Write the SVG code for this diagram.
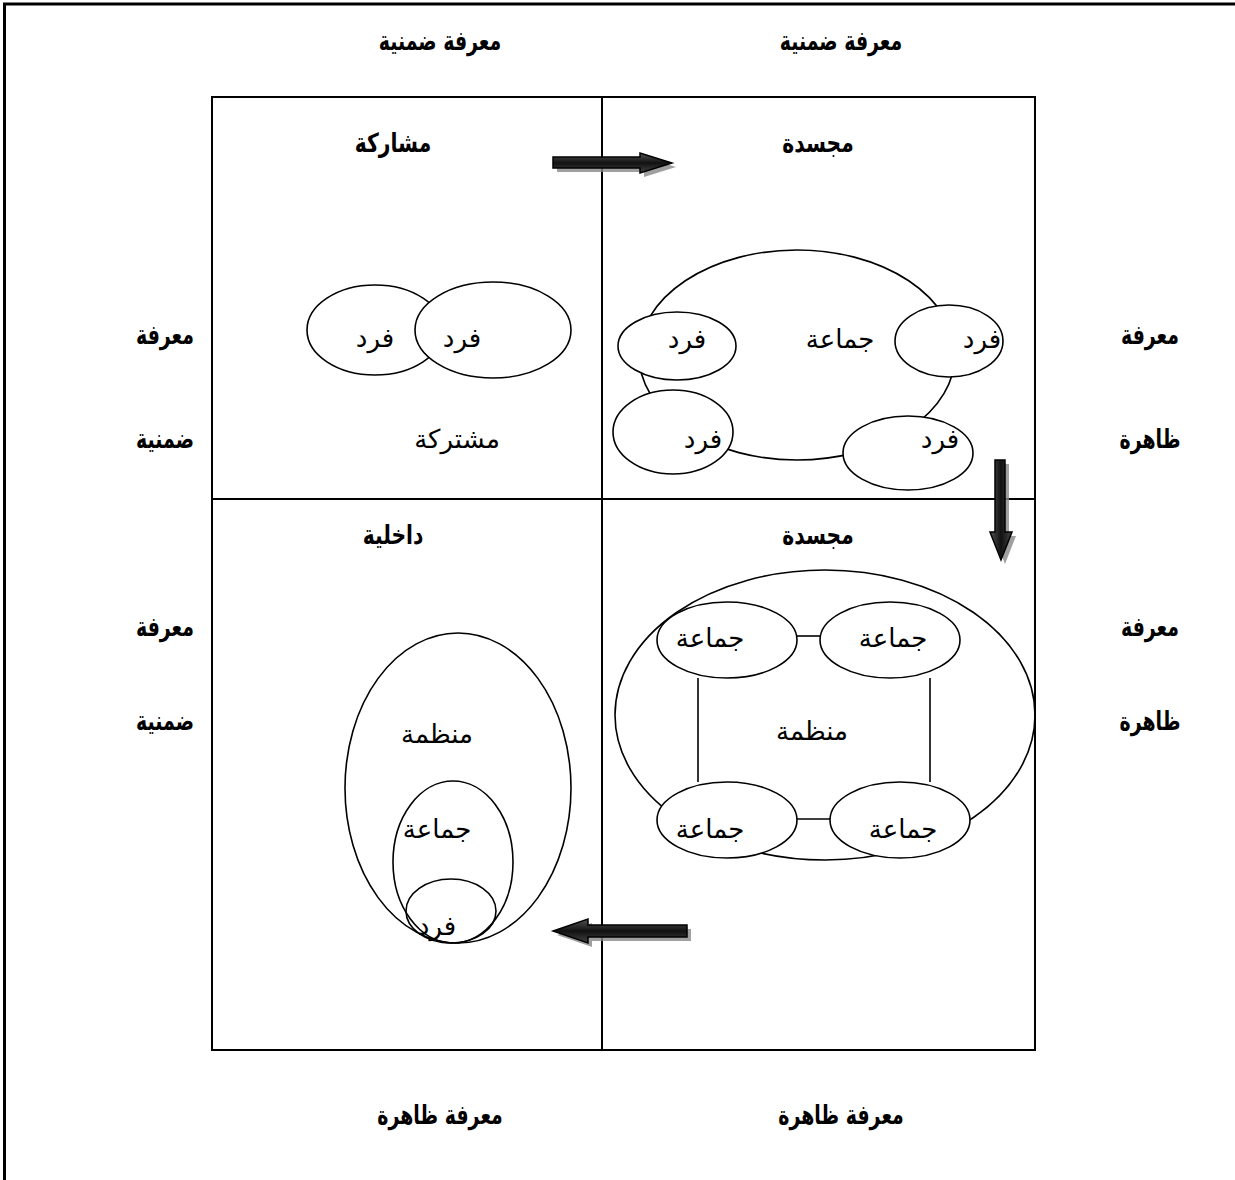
<svg xmlns="http://www.w3.org/2000/svg" width="1235" height="1180" viewBox="0 0 1235 1180">
  <style>
    .frame { fill: none; stroke: #000; stroke-width: 3; }
    .grid { fill: none; stroke: #000; stroke-width: 2; }
    .shape { fill: none; stroke: #000; stroke-width: 1.6; }
    .solid { fill: #fff; stroke: #000; stroke-width: 1.6; }
    .link { stroke: #000; stroke-width: 1.6; }
    .head { font-family: "DejaVu Sans", sans-serif; font-weight: bold; font-size: 22px; text-anchor: middle; fill: #000; }
    .lbl { font-family: "DejaVu Sans", sans-serif; font-size: 26px; text-anchor: middle; fill: #000; }
    .arrow { fill: url(#steel); stroke: #000; stroke-width: 1.5; }
    .arrowv { fill: url(#steelv); stroke: #000; stroke-width: 1.5; }
    .shadow { fill: #888; opacity: 0.8; }
  </style>
  <defs>
    <linearGradient id="steel" x1="0" y1="0" x2="0" y2="1">
      <stop offset="0" stop-color="#555"/>
      <stop offset="0.5" stop-color="#111"/>
      <stop offset="1" stop-color="#444"/>
    </linearGradient>
    <linearGradient id="steelv" x1="0" y1="0" x2="1" y2="0">
      <stop offset="0" stop-color="#555"/>
      <stop offset="0.5" stop-color="#111"/>
      <stop offset="1" stop-color="#444"/>
    </linearGradient>
  </defs>

  <!-- page frame (top and left edges) -->
  <g id="page-frame">
    <line class="frame" x1="3" y1="4" x2="1235" y2="4"/>
    <line class="frame" x1="4.5" y1="3" x2="4.5" y2="1180"/>
  </g>

  <!-- axis captions (condensed, tall bold lettering) -->
  <g id="axis-labels">
    <text class="head" transform="translate(440,50) scale(0.86,1.2)">معرفة ضمنية</text>
    <text class="head" transform="translate(841,50) scale(0.86,1.2)">معرفة ضمنية</text>
    <text class="head" transform="translate(440,1124) scale(0.86,1.2)">معرفة ظاهرة</text>
    <text class="head" transform="translate(841,1124) scale(0.86,1.2)">معرفة ظاهرة</text>
    <text class="head" transform="translate(165,344) scale(0.86,1.2)">معرفة</text>
    <text class="head" transform="translate(165,448) scale(0.86,1.2)">ضمنية</text>
    <text class="head" transform="translate(165,636) scale(0.86,1.2)">معرفة</text>
    <text class="head" transform="translate(165,730) scale(0.86,1.2)">ضمنية</text>
    <text class="head" transform="translate(1150,344) scale(0.86,1.2)">معرفة</text>
    <text class="head" transform="translate(1150,448) scale(0.86,1.2)">ظاهرة</text>
    <text class="head" transform="translate(1150,636) scale(0.86,1.2)">معرفة</text>
    <text class="head" transform="translate(1150,730) scale(0.86,1.2)">ظاهرة</text>
  </g>

  <!-- 2x2 matrix -->
  <g id="matrix">
    <rect class="grid" x="212" y="97" width="823" height="953"/>
    <line class="grid" x1="602" y1="97" x2="602" y2="1050"/>
    <line class="grid" x1="212" y1="499" x2="1035" y2="499"/>
  </g>

  <!-- quadrant: sharing (top left) -->
  <g id="q-sharing">
    <text class="head" transform="translate(393,152) scale(0.92,1.2)">مشاركة</text>
    <ellipse class="solid" cx="375" cy="330" rx="68" ry="45"/>
    <ellipse class="solid" cx="493" cy="330" rx="78" ry="48"/>
    <text class="lbl" x="375" y="347">فرد</text>
    <text class="lbl" x="462" y="347">فرد</text>
    <text class="lbl" x="457" y="448">مشتركة</text>
  </g>

  <!-- quadrant: embodied, individuals in group (top right) -->
  <g id="q-embodied-group">
    <text class="head" transform="translate(818,152) scale(0.92,1.2)">مجسدة</text>
    <ellipse class="shape" cx="797" cy="355" rx="158" ry="105"/>
    <ellipse class="solid" cx="677" cy="346" rx="59" ry="34"/>
    <ellipse class="solid" cx="949" cy="341" rx="54" ry="36"/>
    <ellipse class="solid" cx="673" cy="432" rx="60" ry="42"/>
    <ellipse class="solid" cx="908" cy="453" rx="65" ry="37"/>
    <text class="lbl" x="840" y="348">جماعة</text>
    <text class="lbl" x="687" y="348">فرد</text>
    <text class="lbl" x="982" y="348">فرد</text>
    <text class="lbl" x="703" y="448">فرد</text>
    <text class="lbl" x="940" y="448">فرد</text>
  </g>

  <!-- quadrant: embodied, groups in organisation (bottom right) -->
  <g id="q-embodied-org">
    <text class="head" transform="translate(818,544) scale(0.92,1.2)">مجسدة</text>
    <ellipse class="shape" cx="825" cy="715" rx="210" ry="145"/>
    <ellipse class="solid" cx="727" cy="640" rx="70" ry="38"/>
    <ellipse class="solid" cx="890" cy="640" rx="70" ry="38"/>
    <ellipse class="solid" cx="727" cy="820" rx="70" ry="38"/>
    <ellipse class="solid" cx="900" cy="820" rx="70" ry="38"/>
    <text class="lbl" x="710" y="647">جماعة</text>
    <text class="lbl" x="893" y="647">جماعة</text>
    <text class="lbl" x="710" y="838">جماعة</text>
    <text class="lbl" x="903" y="838">جماعة</text>
    <text class="lbl" x="812" y="740">منظمة</text>
  </g>

  <!-- quadrant: internalisation (bottom left) -->
  <g id="q-internal">
    <text class="head" transform="translate(393,544) scale(0.92,1.2)">داخلية</text>
    <ellipse class="shape" cx="458" cy="788" rx="113" ry="155"/>
    <ellipse class="shape" cx="453" cy="862" rx="60" ry="81"/>
    <ellipse class="shape" cx="451" cy="911" rx="45" ry="32"/>
    <text class="lbl" x="437" y="743">منظمة</text>
    <text class="lbl" x="437" y="838">جماعة</text>
    <text class="lbl" x="437" y="935">فرد</text>
  </g>

  <!-- connectors -->
  <g id="connectors">
    <line class="link" x1="797" y1="636" x2="820" y2="636"/>
    <line class="link" x1="797" y1="819" x2="830" y2="819"/>
    <line class="link" x1="698" y1="678" x2="698" y2="782"/>
    <line class="link" x1="930" y1="678" x2="930" y2="782"/>

    <!-- block arrows with drop shadow -->
    <polygon class="shadow" points="557,161 644,161 644,157 676,167 644,177 644,172 557,172"/>
    <polygon class="arrow" points="553,157 640,157 640,153 672,163 640,173 640,168 553,168"/>

    <polygon class="shadow" points="999,464 1009,464 1009,536 1016,536 1005,564 994,536 999,536"/>
    <polygon class="arrowv" points="995,460 1005,460 1005,532 1012,532 1001,560 990,532 995,532"/>

    <polygon class="shadow" points="691,929 592,929 592,923 557,935 592,947 592,941 691,941"/>
    <polygon class="arrow" points="687,925 588,925 588,919 553,931 588,943 588,937 687,937"/>
  </g>
</svg>
